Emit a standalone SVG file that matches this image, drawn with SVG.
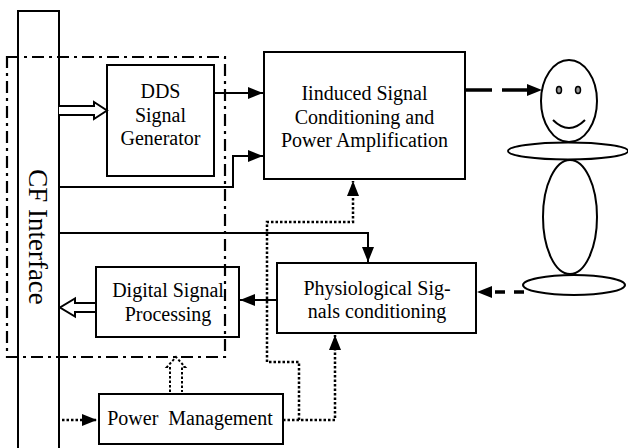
<svg xmlns="http://www.w3.org/2000/svg" width="628" height="448" viewBox="0 0 628 448">
  <style>
    .box { fill: #fff; stroke: #000; stroke-width: 2; }
    .lbl { font-size: 20px; fill: #000; text-anchor: middle; white-space: pre; }
    .wire { fill: none; stroke: #000; stroke-width: 2; }
    .dot { fill: none; stroke: #000; stroke-width: 2.5; stroke-dasharray: 2.5 2; }
    .dash { fill: none; stroke: #000; stroke-width: 3.5; }
    .hollow { fill: #fff; stroke: #000; stroke-width: 2; stroke-linejoin: miter; }
    .fig { fill: #fff; stroke: #000; stroke-width: 2; }
  </style>
  <defs>
    <marker id="arrow" viewBox="0 0 15 12" refX="15" refY="6" markerWidth="15" markerHeight="12" markerUnits="userSpaceOnUse" orient="auto">
      <path d="M0,0 L15,6 L0,12 z" fill="#000"/>
    </marker>
  </defs>

  <rect width="628" height="448" fill="#fff"/>

  <g font-family="'Liberation Serif', 'Times New Roman', serif">
    <!-- CF interface bar -->
    <g id="cf-interface">
      <rect x="18" y="11" width="41" height="440" fill="none" stroke="#000" stroke-width="2"/>
      <text class="lbl" font-family="Liberation Serif, serif" style="font-size:27px" transform="translate(29,237) rotate(90)">CF Interface</text>
    </g>

    <!-- DDS signal generator -->
    <g id="dds">
      <rect class="box" x="107" y="65" width="107" height="111"/>
      <text class="lbl" font-family="Liberation Serif, serif" x="160.5" y="98">DDS</text>
      <text class="lbl" font-family="Liberation Serif, serif" x="160.5" y="122">Signal</text>
      <text class="lbl" font-family="Liberation Serif, serif" x="160.5" y="145">Generator</text>
    </g>

    <!-- Induced signal conditioning -->
    <g id="induced">
      <rect class="box" x="264" y="52" width="201" height="127"/>
      <text class="lbl" font-family="Liberation Serif, serif" x="364.5" y="100">Iinduced Signal</text>
      <text class="lbl" font-family="Liberation Serif, serif" x="364.5" y="124">Conditioning and</text>
      <text class="lbl" font-family="Liberation Serif, serif" x="364.5" y="147">Power Amplification</text>
    </g>

    <!-- Physiological signals conditioning -->
    <g id="physio">
      <rect class="box" x="277" y="263" width="199" height="70"/>
      <text class="lbl" font-family="Liberation Serif, serif" x="377" y="295">Physiological Sig-</text>
      <text class="lbl" font-family="Liberation Serif, serif" x="377" y="318">nals conditioning</text>
    </g>

    <!-- Digital signal processing -->
    <g id="dsp">
      <rect class="box" x="96" y="267" width="143" height="70"/>
      <text class="lbl" font-family="Liberation Serif, serif" x="168" y="297">Digital Signal</text>
      <text class="lbl" font-family="Liberation Serif, serif" x="168" y="321">Processing</text>
    </g>

    <!-- Power management -->
    <g id="power">
      <rect class="box" x="99" y="394" width="184" height="50"/>
      <text class="lbl" font-family="Liberation Serif, serif" x="190" y="425">Power  Management</text>
    </g>
  </g>

  <!-- Human figure (subject) -->
  <g id="subject">
    <ellipse class="fig" cx="574" cy="285" rx="51" ry="10"/>
    <ellipse class="fig" cx="570" cy="217" rx="27" ry="57"/>
    <ellipse class="fig" cx="568" cy="151" rx="60" ry="8.5"/>
    <ellipse class="fig" cx="569" cy="101" rx="28" ry="41"/>
    <ellipse cx="559" cy="90" rx="2.5" ry="3.5" fill="#999" stroke="#000" stroke-width="1.5"/>
    <ellipse cx="578" cy="90" rx="2.5" ry="3.5" fill="#999" stroke="#000" stroke-width="1.5"/>
    <path d="M553,120 Q569,136 585,120" fill="none" stroke="#000" stroke-width="2"/>
  </g>

  <!-- Connectors -->
  <g id="connectors">
    <!-- CF -> DDS (bus) -->
    <path class="hollow" d="M59,106 H94 V102 L107,110.5 L94,119 V115 H59"/>
    <!-- DSP -> CF (bus) -->
    <path class="hollow" d="M95,303 H75 V298.5 L60,307.5 L75,316.5 V312 H95"/>
    <!-- DDS -> Induced -->
    <path class="wire" d="M214,93 H263" marker-end="url(#arrow)"/>
    <!-- CF -> Induced -->
    <path class="wire" d="M59,187 H233 V156 H263" marker-end="url(#arrow)"/>
    <!-- CF -> Physio -->
    <path class="wire" d="M59,233 H368 V262" marker-end="url(#arrow)"/>
    <!-- Physio -> DSP -->
    <path class="wire" d="M277,300 H240" marker-end="url(#arrow)"/>
    <!-- Induced -> subject -->
    <path class="dash" d="M465,90 H529" stroke-dasharray="27 10"/>
    <path d="M529,90 H542" stroke="none" marker-end="url(#arrow)"/>
    <!-- Subject -> Physio -->
    <path class="dash" d="M524,292 H493" stroke-dasharray="10 9"/>
    <path d="M493,292 H477" stroke="none" marker-end="url(#arrow)"/>
    <!-- Power distribution (dotted) -->
    <path class="dot" d="M62,420 H97" marker-end="url(#arrow)"/>
    <path class="dot" d="M283,420 H335 V335" marker-end="url(#arrow)"/>
    <path class="dot" d="M299,420 V362 H267 V222 H353 V181" marker-end="url(#arrow)"/>
    <path class="hollow" d="M170,392 V367 H167 L176,357 L185,367 H182 V392" style="stroke-dasharray:2.5 2; fill:none"/>
  </g>

  <!-- Dash-dot enclosure -->
  <rect x="7" y="57" width="218" height="300" fill="none" stroke="#000" stroke-width="2.2" stroke-dasharray="12 5 3 5"/>
</svg>
